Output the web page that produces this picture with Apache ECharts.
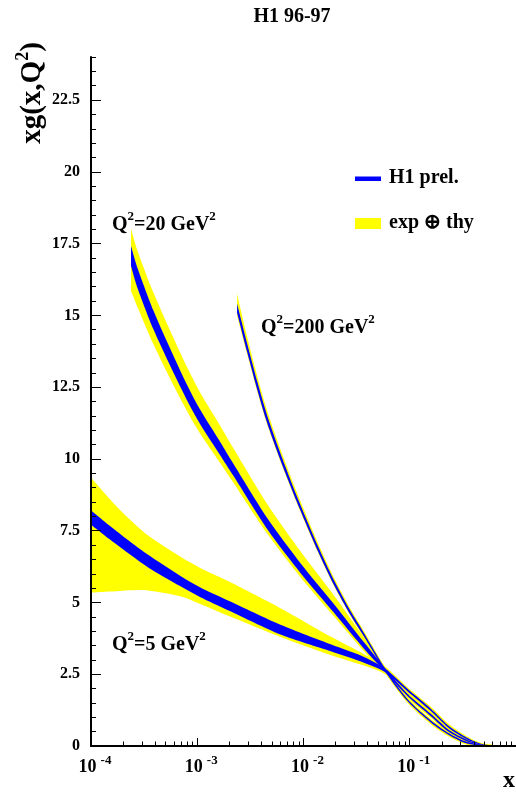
<!DOCTYPE html>
<html>
<head>
<meta charset="utf-8">
<script src="https://cdn.jsdelivr.net/npm/echarts@6/dist/echarts.min.js"></script>
<style>
html,body{margin:0;padding:0;background:#fff;}
#chart{width:516px;height:794px;}
</style>
</head>
<body>
<div id="chart"></div>
<script>
// ---------------- data ----------------
const q5X      = [1e-4, 1.5e-4, 2e-4, 3.45e-4, 6.9e-4, 1.07e-3, 2.05e-3, 6.07e-3, 1.8e-2, 3.71e-2, 5.94e-2, 9.51e-2, 0.158, 0.227, 0.323, 0.42, 0.5, 0.65];
const q5BlueLo = [7.71, 7.20, 6.85, 6.22, 5.57, 5.18, 4.69, 3.88, 3.30, 2.90, 2.56, 1.91, 1.22, 0.665, 0.29, 0.10, 0.03, 0.00];
const q5BlueHi = [8.20, 7.67, 7.31, 6.66, 5.93, 5.52, 5.03, 4.22, 3.54, 3.10, 2.68, 1.99, 1.30, 0.735, 0.35, 0.14, 0.05, 0.01];
const q5YelLo  = [5.34, 5.38, 5.41, 5.42, 5.22, 4.95, 4.51, 3.80, 3.17, 2.80, 2.49, 1.85, 1.15, 0.60, 0.24, 0.06, 0.01, 0.00];
const q5YelHi  = [9.35, 8.60, 8.12, 7.33, 6.60, 6.20, 5.70, 4.80, 3.81, 3.20, 2.75, 2.05, 1.37, 0.80, 0.40, 0.17, 0.08, 0.03];

const q20X      = [2.38e-4, 2.77e-4, 3.85e-4, 5.55e-4, 8.05e-4, 1.07e-3, 1.65e-3, 2.19e-3, 4.55e-3, 9.37e-3, 1.93e-2, 3.71e-2, 5.94e-2, 9.51e-2, 0.158, 0.227, 0.323, 0.42, 0.5, 0.65];
const q20BlueLo = [16.72, 15.90, 14.53, 13.25, 12.03, 11.20, 10.12, 9.41, 7.56, 6.03, 4.65, 3.39, 2.56, 1.74, 1.04, 0.525, 0.21, 0.06, 0.01, 0.00];
const q20BlueHi = [17.42, 16.60, 15.19, 13.85, 12.57, 11.70, 10.58, 9.83, 7.94, 6.37, 4.95, 3.61, 2.68, 1.82, 1.12, 0.595, 0.27, 0.10, 0.03, 0.01];
const q20YelLo  = [15.85, 15.25, 14.01, 12.80, 11.65, 10.87, 9.85, 9.17, 7.40, 5.88, 4.52, 3.30, 2.50, 1.68, 0.98, 0.47, 0.16, 0.02, 0.00, 0.00];
const q20YelHi  = [18.02, 17.20, 15.81, 14.47, 13.18, 12.30, 11.15, 10.37, 8.43, 6.78, 5.25, 3.78, 2.74, 1.88, 1.18, 0.65, 0.32, 0.14, 0.07, 0.03];

const q200X      = [2.37e-3, 2.94e-3, 3.66e-3, 4.55e-3, 6.07e-3, 8.72e-3, 1.35e-2, 1.93e-2, 2.77e-2, 3.71e-2, 5.94e-2, 9.51e-2, 0.158, 0.227, 0.323, 0.42, 0.5, 0.65];
const q200BlueLo = [15.09, 13.74, 12.43, 11.25, 9.95, 8.47, 6.83, 5.62, 4.56, 3.81, 2.57, 1.565, 0.815, 0.41, 0.12, 0.03, 0.00, 0.00];
const q200BlueHi = [15.41, 14.04, 12.71, 11.51, 10.19, 8.67, 7.01, 5.78, 4.70, 3.93, 2.67, 1.635, 0.885, 0.47, 0.18, 0.07, 0.02, 0.01];
const q200YelLo  = [15.00, 13.67, 12.37, 11.20, 9.91, 8.43, 6.79, 5.58, 4.53, 3.77, 2.52, 1.51, 0.76, 0.36, 0.08, 0.00, 0.00, 0.00];
const q200YelHi  = [15.75, 14.27, 12.90, 11.68, 10.34, 8.81, 7.12, 5.87, 4.78, 4.00, 2.72, 1.69, 0.94, 0.52, 0.22, 0.10, 0.05, 0.03];

const xMinorTicks = [2e-4,3e-4,4e-4,5e-4,6e-4,7e-4,8e-4,9e-4,
                     2e-3,3e-3,4e-3,5e-3,6e-3,7e-3,8e-3,9e-3,
                     2e-2,3e-2,4e-2,5e-2,6e-2,7e-2,8e-2,9e-2,
                     0.2,0.3,0.4,0.5,0.6,0.7,0.8,0.9];
const yLabelValues = [0, 2.5, 5, 7.5, 10, 12.5, 15, 17.5, 20, 22.5];

const titleText = 'H1 96-97';
const legendBlue = 'H1 prel.';
const legendYellow = 'exp \u2295 thy';

// ---------------- chart ----------------
const FONT = 'Liberation Serif';
const BLUE = '#0000ff';
const YELLOW = '#ffff00';

// smooth (Catmull-Rom) path through pixel points
function smoothSeg(pts, first) {
  let d = first ? ('M' + pts[0][0] + ',' + pts[0][1]) : ('L' + pts[0][0] + ',' + pts[0][1]);
  const n = pts.length;
  const k = 0.8;
  for (let i = 0; i < n - 1; i++) {
    const p0 = pts[Math.max(i - 1, 0)], p1 = pts[i], p2 = pts[i + 1], p3 = pts[Math.min(i + 2, n - 1)];
    const c1x = p1[0] + (p2[0] - p0[0]) / 6 * k, c1y = p1[1] + (p2[1] - p0[1]) / 6 * k;
    const c2x = p2[0] - (p3[0] - p1[0]) / 6 * k, c2y = p2[1] - (p3[1] - p1[1]) / 6 * k;
    d += 'C' + c1x + ',' + c1y + ',' + c2x + ',' + c2y + ',' + p2[0] + ',' + p2[1];
  }
  return d;
}

function band(id, xs, lo, hi, color, z) {
  return {
    type:'custom', name:id, silent:true, z:z, clip:true,
    data: xs.map((x,i)=>[x, lo[i], hi[i]]),
    encode:{x:0, y:[1,2]},
    renderItem: function(params, api){
      if (params.dataIndexInside !== 0) return null;
      const n = params.dataInsideLength;
      const top = [], bot = [];
      for (let i = 0; i < n; i++) {
        const xv = api.value(0, i);
        top.push(api.coord([xv, api.value(2, i)]));
        bot.push(api.coord([xv, api.value(1, i)]));
      }
      bot.reverse();
      const d = smoothSeg(top, true) + smoothSeg(bot, false) + 'Z';
      return {type:'path', shape:{pathData:d}, style:{fill:color, stroke:null}};
    }
  };
}

const series = [
  band('y5', q5X, q5YelLo, q5YelHi, YELLOW, 2),
  band('y20', q20X, q20YelLo, q20YelHi, YELLOW, 2),
  band('y200', q200X, q200YelLo, q200YelHi, YELLOW, 2),
  band('b5', q5X, q5BlueLo, q5BlueHi, BLUE, 3),
  band('b20', q20X, q20BlueLo, q20BlueHi, BLUE, 3),
  band('b200', q200X, q200BlueLo, q200BlueHi, BLUE, 3),
  {
    type:'custom', silent:true, z:20, clip:false,
    data: xMinorTicks.map(v=>[v,0]),
    renderItem: function(params, api){
      const p = api.coord([api.value(0), 0]);
      const x = Math.round(p[0]) + 0.5;
      return {type:'line', shape:{x1:x, y1:p[1], x2:x, y2:p[1]-4.5},
              style:{stroke:'#000', lineWidth:1}};
    }
  }
];

const supRich = {
  m:{fontFamily:FONT, fontWeight:'bold', fontSize:20, lineHeight:25, verticalAlign:'bottom', color:'#000'},
  s:{fontFamily:FONT, fontWeight:'bold', fontSize:13, lineHeight:13, verticalAlign:'top', color:'#000'}
};

function qLabel(q, left, top) {
  return {type:'text', left:left, top:top, z:50,
    style:{text:'{m|Q}{s|2}{m|='+q+' GeV}{s|2}', rich:supRich}};
}

const option = {
  animation:false,
  backgroundColor:'#fff',
  grid:{left:91, right:0, top:57, bottom:48, containLabel:false},
  xAxis:[
    {type:'log', logBase:10, min:1e-4, max:1, position:'bottom', z:10,
     axisLine:{show:true, lineStyle:{color:'#000', width:2}},
     axisTick:{show:true, inside:true, length:8, lineStyle:{color:'#000', width:1}},
     splitLine:{show:false}, minorTick:{show:false},
     axisLabel:{show:true, margin:8, showMaxLabel:false, padding:[0,0,0,8],
       formatter:function(v){
         const e = Math.round(Math.log10(v));
         if (e >= 0) return '';
         return '{b|10}{s|' + (e) + '}';
       },
       rich:{
         b:{fontFamily:FONT, fontWeight:'bold', fontSize:18, lineHeight:22, verticalAlign:'bottom', color:'#000'},
         s:{fontFamily:FONT, fontWeight:'bold', fontSize:13, lineHeight:13, verticalAlign:'top', color:'#000', padding:[0,0,0,4]}
       }
     }},
    {type:'log', logBase:10, min:1e-4, max:1, position:'top', z:10,
     axisLine:{show:true, lineStyle:{color:'#000', width:2}},
     axisTick:{show:false}, axisLabel:{show:false}, splitLine:{show:false}}
  ],
  yAxis:[
    {type:'value', min:0, max:24, interval:2.5, position:'left', z:10,
     axisLine:{show:true, lineStyle:{color:'#000', width:2}},
     axisTick:{show:true, inside:true, length:10, lineStyle:{color:'#000', width:1}},
     splitLine:{show:false},
     axisLabel:{show:true, margin:11, showMaxLabel:false,
       fontFamily:FONT, fontWeight:'bold', fontSize:16, color:'#000',
       formatter:function(v){ return yLabelValues.indexOf(v) >= 0 ? String(v) : ''; }}},
    {type:'value', min:0, max:24, interval:0.5, position:'left', z:10,
     axisLine:{show:false},
     axisTick:{show:true, inside:true, length:5, lineStyle:{color:'#000', width:1}},
     axisLabel:{show:false}, splitLine:{show:false}}
  ],
  series: series.map(s=>Object.assign({xAxisIndex:0, yAxisIndex:0}, s)),
  graphic:[
    {type:'text', x:292, y:27, z:50,
     style:{text:titleText, fontFamily:FONT, fontWeight:'bold', fontSize:20, fill:'#000',
            align:'center', verticalAlign:'bottom'}},
    {type:'text', x:31, y:93, rotation:Math.PI/2, z:50,
     style:{text:'{m|xg(x,Q}{s|2}{m|)}',
            rich:{m:{fontFamily:FONT, fontWeight:'bold', fontSize:29, lineHeight:33, verticalAlign:'bottom', color:'#000'},
                  s:{fontFamily:FONT, fontWeight:'bold', fontSize:18, lineHeight:18, verticalAlign:'top', color:'#000'}},
            align:'center', verticalAlign:'middle'}},
    {type:'text', x:515, y:793, z:50,
     style:{text:'x', fontFamily:FONT, fontWeight:'bold', fontSize:24, fill:'#000',
            align:'right', verticalAlign:'bottom'}},
    // legend
    {type:'rect', shape:{x:355, y:176.5, width:26, height:4.5}, style:{fill:BLUE}, z:50},
    {type:'text', x:389, y:177.5, z:50,
     style:{text:legendBlue, fontFamily:FONT, fontWeight:'bold', fontSize:20, fill:'#000',
            align:'left', verticalAlign:'middle'}},
    {type:'rect', shape:{x:355, y:218, width:26, height:11}, style:{fill:YELLOW}, z:50},
    {type:'text', x:389, y:223, z:50,
     style:{text:legendYellow, fontFamily:FONT, fontWeight:'bold', fontSize:20, fill:'#000',
            align:'left', verticalAlign:'middle'}},
    qLabel('20', 112, 210),
    qLabel('200', 261, 313),
    qLabel('5', 112, 630)
  ]
};

const chart = echarts.init(document.getElementById('chart'), null, {renderer:'canvas'});
chart.setOption(option);
</script>
</body>
</html>
